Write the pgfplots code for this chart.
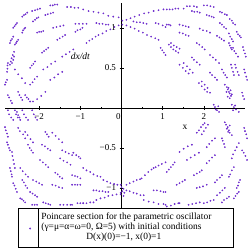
\documentclass[border=0pt]{standalone}
\usepackage{fontspec}
\setmainfont{Liberation Serif}
\usepackage{pgfplots}
\pgfplotsset{compat=1.18}
\definecolor{pt}{RGB}{110,45,205}
\begin{document}
\begin{tikzpicture}[x=1bp,y=1bp]
\useasboundingbox (0,0) rectangle (249,249);
\begin{axis}[
 at={(5bp,41bp)}, anchor=south west,
 scale only axis, width=240bp, height=205bp,
 xmin=-2.83, xmax=3.0, ymin=-1.25, ymax=1.31,
 axis lines=middle, axis line style={-, black, line width=0.6bp},
 xtick={-2,-1,0,1,2}, xticklabels={−2,−1,\llap{0\hspace{0.8bp}},1,2},
 ytick={-1,-0.5,0.5,1}, yticklabels={−1,−0.5,0.5,1},
 minor x tick num=1, minor y tick num=4,
 tick align=center, major tick length=4bp, minor tick length=2.5bp,
 tick style={black, line width=0.5bp},
 hide obscured x ticks=false, hide obscured y ticks=false,
 tick label style={font=\fontsize{9}{10}\selectfont},
 clip=false,
 legend style={draw=none, fill=none, at={(axis description cs:0.054,-0.1)}, anchor=west, inner sep=0pt, outer sep=0pt},
 legend cell align=left,
 legend image code/.code={\path (-12bp,0) (9bp,0); \fill[pt] (0,0) circle (0.75bp);},
]
\addplot[only marks, mark=*, mark size=0.65bp, color=pt, mark options={draw=none, fill=pt}] coordinates {
(-1.73,1.28)(-1.67,1.28)(-1.62,1.29)(-1.56,1.29)
(-1.32,1.26)(-1.23,1.26)(-1.14,1.25)(-1.05,1.25)
(-2.17,1.21)(-2.10,1.22)(-2.04,1.23)(-1.98,1.24)
(-2.41,1.14)(-2.37,1.16)(-2.33,1.17)(-2.29,1.19)
(-1.85,1.16)(-1.79,1.17)(-1.72,1.18)(-1.66,1.19)
(-1.12,1.05)(-1.03,1.05)(-0.94,1.05)(-0.85,1.05)
(-1.66,1.00)(-1.58,1.01)(-1.49,1.02)(-1.41,1.03)
(-2.15,1.08)(-2.10,1.10)(-2.06,1.12)(-2.02,1.13)
(-2.63,1.00)(-2.60,1.02)(-2.57,1.04)(-2.54,1.06)
(-2.41,0.94)(-2.39,0.97)(-2.36,0.99)(-2.34,1.00)
(-2.05,0.94)(-2.00,0.95)(-1.95,0.95)(-1.90,0.96)
(-1.56,0.85)(-1.50,0.87)(-1.43,0.89)(-1.37,0.91)
(-1.12,0.95)(-1.07,0.97)(-1.00,0.98)(-0.95,1.00)
(-2.71,0.81)(-2.69,0.84)(-2.66,0.86)(-2.63,0.89)
(-2.59,0.79)(-2.56,0.81)(-2.54,0.83)(-2.51,0.85)
(-1.93,0.69)(-1.88,0.71)(-1.83,0.73)(-1.78,0.75)
(-1.44,0.64)(-1.35,0.67)(-1.26,0.70)(-1.17,0.73)
(-2.71,0.54)(-2.69,0.58)(-2.67,0.62)(-2.64,0.66)(-2.61,0.70)(-2.66,0.56)(-2.63,0.60)(-2.61,0.64)
(-2.78,0.45)(-2.77,0.49)(-2.77,0.53)(-2.76,0.56)
(-2.22,0.50)(-2.18,0.53)(-2.14,0.55)(-2.10,0.58)
(-1.90,0.48)(-1.80,0.51)(-1.71,0.55)(-1.61,0.58)
(-1.73,0.35)(-1.63,0.38)(-1.54,0.42)(-1.44,0.45)
(-2.59,0.48)(-2.51,0.42)(-2.42,0.37)(-2.34,0.31)
(-2.22,0.29)(-2.16,0.32)(-2.11,0.36)(-2.05,0.39)
(-2.83,0.29)(-2.81,0.32)(-2.78,0.35)
(-2.76,0.16)(-2.73,0.13)(-2.69,0.09)(-2.66,0.06)
(-2.51,0.20)(-2.48,0.16)(-2.44,0.13)(-2.41,0.10)
(-2.34,0.16)(-2.30,0.13)(-2.26,0.11)(-2.22,0.08)
(-2.15,0.08)(-2.05,0.11)(-1.95,0.15)(-1.85,0.20)
(-0.93,1.23)(-0.80,1.21)(-0.68,1.20)(-0.56,1.19)(-0.44,1.18)(-0.32,1.15)(-0.20,1.14)(-0.07,1.13)(0.02,1.09)
(-0.61,1.06)(-0.54,1.05)(-0.46,1.05)(-0.38,1.04)(-0.32,1.04)
(-0.85,0.81)(-0.78,0.84)(-0.71,0.86)(-0.63,0.89)(-0.56,0.91)(-0.46,0.93)(-0.37,0.96)(-0.27,0.98)(-0.17,1.01)(-0.07,1.03)(0.02,1.04)
(0.12,1.10)(0.22,1.12)(0.32,1.14)(0.43,1.16)(0.55,1.18)(0.66,1.19)(0.78,1.21)(0.90,1.22)(1.02,1.23)
(0.29,1.08)(0.37,1.07)(0.45,1.07)(0.53,1.06)(0.61,1.05)
(0.12,1.03)(0.22,1.01)(0.32,0.99)(0.42,0.96)(0.52,0.94)(0.62,0.91)(0.72,0.89)(0.82,0.87)(0.90,0.85)
(0.83,1.06)(0.90,1.05)(1.00,1.03)(1.07,1.01)
(0.95,0.75)(0.99,0.72)(1.03,0.69)(1.07,0.66)
(1.10,1.23)(1.17,1.23)(1.24,1.23)(1.31,1.24)(1.38,1.24)(1.51,1.24)
(1.59,1.27)(1.66,1.27)(1.76,1.27)(1.83,1.26)
(2.00,1.28)(2.08,1.28)(2.16,1.27)(2.24,1.26)
(2.39,1.20)(2.44,1.19)(2.51,1.17)(2.56,1.16)
(2.63,1.11)(2.68,1.09)(2.71,1.06)(2.76,1.04)
(2.80,0.95)(2.83,0.92)(2.87,0.90)(2.90,0.88)
(2.95,0.76)(2.97,0.72)(3.00,0.68)(3.02,0.64)
(2.98,0.48)(3.00,0.44)(3.03,0.39)(3.05,0.35)
(1.41,1.04)(1.49,1.03)(1.56,1.02)(1.63,1.01)
(1.71,1.21)(1.77,1.20)(1.84,1.20)(1.90,1.19)
(2.07,1.16)(2.13,1.15)(2.19,1.14)(2.24,1.13)
(2.39,1.06)(2.44,1.04)(2.49,1.01)(2.54,0.99)
(2.61,0.93)(2.64,0.89)(2.68,0.86)(2.71,0.83)
(2.71,0.75)(2.74,0.71)(2.78,0.68)(2.83,0.64)
(2.76,0.54)(2.78,0.50)(2.82,0.45)(2.85,0.41)
(1.90,0.99)(1.98,0.97)(2.07,0.96)(2.15,0.94)
(2.32,0.90)(2.38,0.88)(2.43,0.86)(2.49,0.84)
(2.61,0.81)(2.63,0.78)(2.66,0.75)(2.68,0.73)
(2.66,0.54)(2.68,0.50)(2.71,0.45)(2.73,0.41)
(1.10,1.04)(1.15,1.04)(1.19,1.03)
(1.41,0.94)(1.49,0.93)(1.56,0.91)(1.63,0.90)
(1.83,0.81)(1.89,0.79)(1.96,0.76)(2.02,0.73)
(2.15,0.66)(2.22,0.63)(2.29,0.60)(2.37,0.56)
(2.44,0.48)(2.48,0.44)(2.52,0.41)(2.56,0.38)
(2.51,0.29)(2.56,0.26)(2.58,0.23)(2.61,0.20)(2.63,0.18)(2.66,0.15)(2.55,0.20)(2.60,0.25)(2.65,0.22)(2.68,0.17)(2.58,0.14)(2.63,0.12)
(1.15,0.79)(1.20,0.76)(1.26,0.73)(1.32,0.71)(1.38,0.69)(1.20,0.81)(1.27,0.78)(1.34,0.76)(1.41,0.74)
(1.71,0.63)(1.76,0.60)(1.83,0.57)(1.90,0.54)
(2.15,0.44)(2.20,0.41)(2.27,0.38)(2.32,0.35)
(1.41,0.54)(1.49,0.50)(1.56,0.46)(1.63,0.43)(1.51,0.56)(1.59,0.52)(1.66,0.48)(1.73,0.44)
(1.88,0.31)(1.95,0.27)(2.02,0.23)(2.08,0.20)(2.15,0.19)(1.95,0.33)(2.02,0.29)(2.09,0.25)
(2.93,0.19)(2.95,0.15)(2.98,0.11)
(-2.76,-0.03)(-2.73,-0.08)(-2.68,-0.12)(-2.63,-0.15)
(-2.54,-0.05)(-2.51,-0.09)(-2.48,-0.12)(-2.46,-0.15)
(-2.41,-0.03)(-2.37,-0.08)(-2.32,-0.12)(-2.27,-0.15)
(-2.17,-0.03)(-2.13,-0.08)(-2.09,-0.12)(-2.05,-0.15)
(-2.59,-0.03)(-2.56,-0.08)(-2.52,-0.12)
(-2.83,-0.24)(-2.81,-0.28)(-2.78,-0.32)(-2.76,-0.36)
(-2.51,-0.25)(-2.47,-0.29)(-2.39,-0.33)(-2.34,-0.38)
(-2.34,-0.30)(-2.28,-0.34)(-2.21,-0.39)(-2.15,-0.43)
(-1.85,-0.30)(-1.81,-0.33)(-1.77,-0.36)
(-1.68,-0.31)(-1.60,-0.35)(-1.52,-0.39)(-1.44,-0.43)
(-2.78,-0.43)(-2.76,-0.46)(-2.73,-0.50)(-2.71,-0.53)
(-2.27,-0.46)(-2.23,-0.50)(-2.19,-0.53)(-2.15,-0.56)
(-1.93,-0.46)(-1.86,-0.48)(-1.79,-0.51)(-1.73,-0.53)
(-1.44,-0.53)(-1.36,-0.55)(-1.28,-0.57)(-1.20,-0.59)
(-1.17,-0.56)(-1.10,-0.59)(-1.04,-0.61)(-1.00,-0.63)
(-2.66,-0.55)(-2.65,-0.60)(-2.63,-0.65)(-2.61,-0.70)(-2.59,-0.75)
(-1.98,-0.65)(-1.91,-0.68)(-1.84,-0.71)(-1.78,-0.74)
(-1.49,-0.63)(-1.41,-0.66)(-1.32,-0.68)(-1.24,-0.71)
(-2.71,-0.75)(-2.69,-0.79)(-2.67,-0.83)(-2.66,-0.86)
(-2.46,-0.75)(-2.40,-0.79)(-2.33,-0.83)(-2.27,-0.86)
(-1.61,-0.81)(-1.55,-0.83)(-1.50,-0.86)(-1.44,-0.88)
(-1.20,-0.84)(-1.13,-0.85)(-1.07,-0.86)(-1.00,-0.88)
(-2.63,-0.94)(-2.60,-0.97)(-2.57,-1.01)(-2.54,-1.05)
(-2.41,-0.90)(-2.37,-0.93)(-2.33,-0.97)(-2.29,-1.00)
(-2.15,-0.90)(-2.07,-0.92)(-2.00,-0.94)(-1.93,-0.96)
(-1.68,-0.96)(-1.60,-0.97)(-1.52,-0.99)(-1.44,-1.00)
(-1.20,-0.96)(-1.13,-0.96)(-1.07,-0.96)(-1.00,-0.96)
(-2.46,-1.13)(-2.42,-1.14)(-2.38,-1.16)(-2.34,-1.18)
(-2.22,-1.05)(-2.16,-1.07)(-2.10,-1.09)(-2.05,-1.11)
(-2.17,-1.21)(-2.11,-1.21)(-2.05,-1.21)
(-1.90,-1.18)(-1.84,-1.19)(-1.78,-1.20)(-1.73,-1.21)
(-1.49,-1.21)(-1.41,-1.21)(-1.32,-1.21)(-1.24,-1.21)(-1.20,-1.21)
(-1.07,-1.19)(-1.00,-1.19)(-0.93,-1.19)
(-0.93,-0.75)(-0.85,-0.78)(-0.76,-0.80)(-0.68,-0.83)(-0.59,-0.85)(-0.51,-0.86)
(-0.44,-0.90)(-0.35,-0.92)(-0.27,-0.94)(-0.18,-0.95)(-0.10,-0.96)(-0.02,-0.96)
(-0.68,-1.03)(-0.61,-1.03)(-0.54,-1.04)(-0.46,-1.04)(-0.39,-1.05)(-0.32,-1.05)
(-0.93,-1.19)(-0.85,-1.19)(-0.76,-1.18)(-0.68,-1.18)
(-0.61,-1.15)(-0.51,-1.13)(-0.41,-1.12)(-0.32,-1.10)(-0.22,-1.09)(-0.12,-1.08)(-0.02,-1.06)
(0.00,-0.99)(0.05,-1.01)(0.02,-1.04)(0.07,-1.06)(-0.02,-1.08)(0.05,-1.10)
(0.12,-0.96)(0.20,-0.94)(0.29,-0.92)(0.37,-0.90)(0.45,-0.89)
(0.49,-0.88)(0.57,-0.84)(0.65,-0.80)(0.73,-0.77)(0.78,-0.75)
(0.83,-0.74)(0.90,-0.72)(0.98,-0.70)(1.07,-0.68)
(0.12,-1.03)(0.20,-1.04)(0.29,-1.06)(0.37,-1.07)(0.46,-1.09)(0.54,-1.09)
(0.54,-1.15)(0.66,-1.17)(0.78,-1.18)(0.90,-1.20)(1.02,-1.20)(1.07,-1.21)
(0.78,-1.03)(0.86,-1.03)(0.95,-1.04)(1.02,-1.05)(1.07,-1.05)
(2.24,0.04)(2.27,0.01)(2.32,-0.03)(2.37,-0.05)(2.35,0.02)(2.29,-0.02)
(2.68,0.04)(2.73,0.01)(2.78,-0.02)(2.85,-0.05)(2.76,0.03)(2.71,-0.03)
(2.51,-0.18)(2.54,-0.21)(2.58,-0.24)(2.61,-0.28)(2.63,-0.31)(2.68,-0.34)(2.56,-0.26)(2.63,-0.22)(2.59,-0.30)
(1.83,-0.31)(1.88,-0.28)(1.93,-0.24)(1.98,-0.21)(2.02,-0.19)
(1.95,-0.33)(2.00,-0.29)(2.05,-0.25)(2.10,-0.21)
(2.98,-0.25)(3.00,-0.29)(3.03,-0.33)(3.05,-0.38)
(2.07,-0.49)(2.13,-0.45)(2.20,-0.41)(2.27,-0.38)
(2.44,-0.38)(2.46,-0.41)(2.49,-0.45)(2.51,-0.49)
(1.41,-0.55)(1.51,-0.51)(1.61,-0.48)(1.71,-0.46)
(1.59,-0.65)(1.68,-0.62)(1.78,-0.59)(1.88,-0.56)
(2.68,-0.63)(2.71,-0.58)(2.76,-0.53)(2.80,-0.49)(2.85,-0.44)
(2.93,-0.53)(2.97,-0.56)(3.01,-0.60)(3.05,-0.65)
(2.07,-0.69)(2.13,-0.66)(2.20,-0.62)(2.27,-0.59)
(1.10,-0.80)(1.15,-0.77)(1.20,-0.74)(1.25,-0.71)(1.29,-0.68)
(1.76,-0.84)(1.83,-0.82)(1.90,-0.80)(1.95,-0.78)
(2.27,-0.93)(2.32,-0.90)(2.39,-0.87)(2.44,-0.84)
(2.61,-0.86)(2.64,-0.83)(2.68,-0.78)(2.73,-0.74)
(2.80,-1.00)(2.83,-0.97)(2.85,-0.93)(2.88,-0.90)
(1.34,-0.96)(1.41,-0.94)(1.48,-0.92)(1.54,-0.90)
(1.83,-1.00)(1.90,-0.99)(1.98,-0.98)(2.07,-0.96)
(2.32,-1.09)(2.39,-1.06)(2.45,-1.03)(2.51,-1.00)
(2.73,-1.13)(2.77,-1.10)(2.81,-1.07)(2.85,-1.05)
(1.10,-1.23)(1.20,-1.22)(1.29,-1.20)(1.38,-1.19)(1.41,-1.19)
(1.63,-1.21)(1.72,-1.20)(1.81,-1.19)(1.90,-1.18)
(2.00,-1.19)(2.08,-1.18)(2.16,-1.16)(2.24,-1.15)
(2.44,-1.18)(2.49,-1.15)(2.56,-1.13)(2.61,-1.11)
};
\addlegendentry{\raisebox{-2bp}[0pt][0pt]{\parbox[c]{190bp}{\fontsize{9.5}{10}\selectfont Poincare section for the parametric oscillator\\(γ=μ=α=ω=0, Ω=5) with initial conditions\\\hspace*{45bp}D(x)(0)=−1, x(0)=1}}}
\node[font=\fontsize{9.5}{10}\selectfont] at (axis cs:1.54,-0.24) {x};
\node[font=\fontsize{9.5}{10}\selectfont\itshape] at (axis cs:-1.0,0.64) {dx/dt};
\end{axis}
\draw[line width=0.6bp] (18,2) rectangle (233,41);
\draw[line width=0.6bp] (38,2) -- (38,41);
\end{tikzpicture}
\end{document}
